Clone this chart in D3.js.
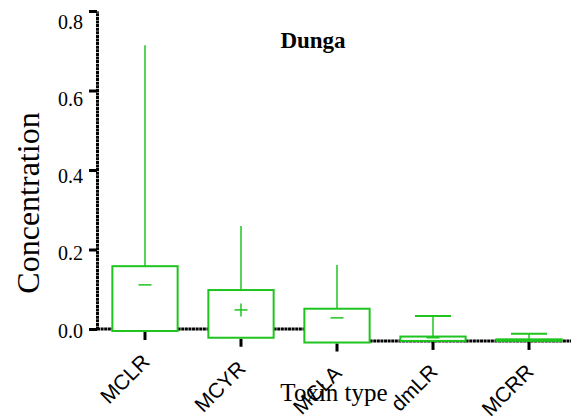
<!DOCTYPE html>
<html>
<head>
<meta charset="utf-8">
<script src="https://cdn.jsdelivr.net/npm/d3@7"></script>
<style>
body{margin:0;background:#fff;}
svg{display:block;}
</style>
</head>
<body>
<svg class="chart" width="571" height="419"></svg>
<script>
var categories = ['MCLR','MCYR','MCLA','dmLR','MCRR'];
var whiskerTop = [0.714, 0.259, 0.161, 0.033, -0.012];
var boxTop = [0.158, 0.098, 0.051, -0.019, -0.026];
var boxBottom = [-0.005, -0.022, -0.034, -0.030, -0.030];
var meanValue = [0.111, 0.048, 0.028, -0.022, null];
var meanMark = ['-', '+', '-', '-', null];
var capped = [false, false, false, true, true];
var axisLevel = [0, 0, 0, -0.03, -0.03];
var yTicks = [0, 0.2, 0.4, 0.6, 0.8];

var green = '#1fc41f';
var svg = d3.select('.chart');

var x = d3.scaleBand().domain(categories).range([97, 577]).padding(0);
var y = d3.scaleLinear().domain([0, 0.8]).range([329, 11]);
// the tick labels sit on a slightly squeezed scale in the original
var yLab = d3.scaleLinear().domain([0, 0.8]).range([330, 21]);
var bw = x.bandwidth() * 0.68;

var data = categories.map(function(c, i){
	return {name:c, hi:whiskerTop[i], top:boxTop[i], bot:boxBottom[i],
		mean:meanValue[i], mark:meanMark[i], cap:capped[i], level:axisLevel[i]};
});
function cx(d){ return x(d.name) + x.bandwidth()/2; }
function base(d){ return Math.max(y(d.bot), y(d.level)); }

// x axis baseline, drawn piecewise under each box
var axisG = svg.append('g');
data.forEach(function(d, i){
	var x0 = i === 0 ? 97 : cx(data[i-1]) + bw/2;
	var x1 = i === data.length - 1 ? 571 : cx(d) + bw/2;
	axisG.append('line')
		.attr('x1', x0).attr('x2', x1)
		.attr('y1', y(d.level)).attr('y2', y(d.level))
		.attr('stroke', '#000').attr('stroke-width', 3)
		.attr('stroke-dasharray', '3,0.6');
	axisG.append('line')
		.attr('x1', cx(d)).attr('x2', cx(d))
		.attr('y1', base(d) + 1)
		.attr('y2', base(d) + 9)
		.attr('stroke', '#000').attr('stroke-width', 3);
});

// y axis
var yAxis = d3.axisLeft(y).tickValues(yTicks).tickFormat(d3.format('.1f')).tickSize(8).tickSizeOuter(0);
var yg = svg.append('g').attr('transform', 'translate(97,0)').call(yAxis);
yg.select('.domain').attr('stroke-width', 3).attr('stroke-dasharray', '3,0.6');
yg.selectAll('.tick line').attr('stroke-width', 3);
yg.selectAll('.tick text')
	.attr('x', -14)
	.attr('y', function(d){ return yLab(d) - y(d); })
	.attr('dy', '0.35em')
	.style('font-family', '"Liberation Serif", serif').style('font-size', '20px').attr('fill', '#000');

// boxes
var g = svg.selectAll('.box').data(data).enter().append('g').attr('class', 'box');
g.append('line')
	.attr('x1', cx).attr('x2', cx)
	.attr('y1', function(d){ return y(d.hi); })
	.attr('y2', function(d){ return y(d.top); })
	.attr('stroke', green).attr('stroke-width', 1.5);
g.filter(function(d){ return d.cap; }).append('line')
	.attr('x1', function(d){ return cx(d) - 18; })
	.attr('x2', function(d){ return cx(d) + 18; })
	.attr('y1', function(d){ return y(d.hi); })
	.attr('y2', function(d){ return y(d.hi); })
	.attr('stroke', green).attr('stroke-width', 2);
g.append('rect')
	.attr('x', function(d){ return cx(d) - bw/2; })
	.attr('width', bw)
	.attr('y', function(d){ return y(d.top); })
	.attr('height', function(d){ return y(d.bot) - y(d.top); })
	.attr('fill', '#fff').attr('stroke', green).attr('stroke-width', 2);
g.filter(function(d){ return d.mark; }).append('line')
	.attr('x1', function(d){ return cx(d) - 6.5; })
	.attr('x2', function(d){ return cx(d) + 6.5; })
	.attr('y1', function(d){ return y(d.mean); })
	.attr('y2', function(d){ return y(d.mean); })
	.attr('stroke', green).attr('stroke-width', 1.5);
g.filter(function(d){ return d.mark === '+'; }).append('line')
	.attr('x1', cx).attr('x2', cx)
	.attr('y1', function(d){ return y(d.mean) - 6.5; })
	.attr('y2', function(d){ return y(d.mean) + 6.5; })
	.attr('stroke', green).attr('stroke-width', 1.5);

// titles
svg.append('text').attr('x', 313).attr('y', 48).attr('text-anchor', 'middle')
	.style('font-family', '"Liberation Serif", serif').style('font-weight', 'bold').style('font-size', '23px')
	.text('Dunga');
svg.append('text').attr('x', 334).attr('y', 401).attr('text-anchor', 'middle')
	.style('font-family', '"Liberation Serif", serif').style('font-size', '25px')
	.text('Toxin type');
svg.append('text').attr('transform', 'translate(39,203) rotate(-90)').attr('text-anchor', 'middle')
	.style('font-family', '"Liberation Serif", serif').style('font-size', '32px')
	.text('Concentration');

// category labels (drawn over the axis title, as in the original)
svg.selectAll('.cat').data(data).enter().append('text')
	.attr('class', 'cat')
	.attr('transform', function(d){ return 'translate(' + (cx(d) + 6) + ',' + (base(d) + 32) + ') rotate(-45)'; })
	.attr('text-anchor', 'end')
	.style('font-family', '"Liberation Sans", Arial, sans-serif').style('font-size', '21px')
	.text(function(d){ return d.name; });
</script>
</body>
</html>
